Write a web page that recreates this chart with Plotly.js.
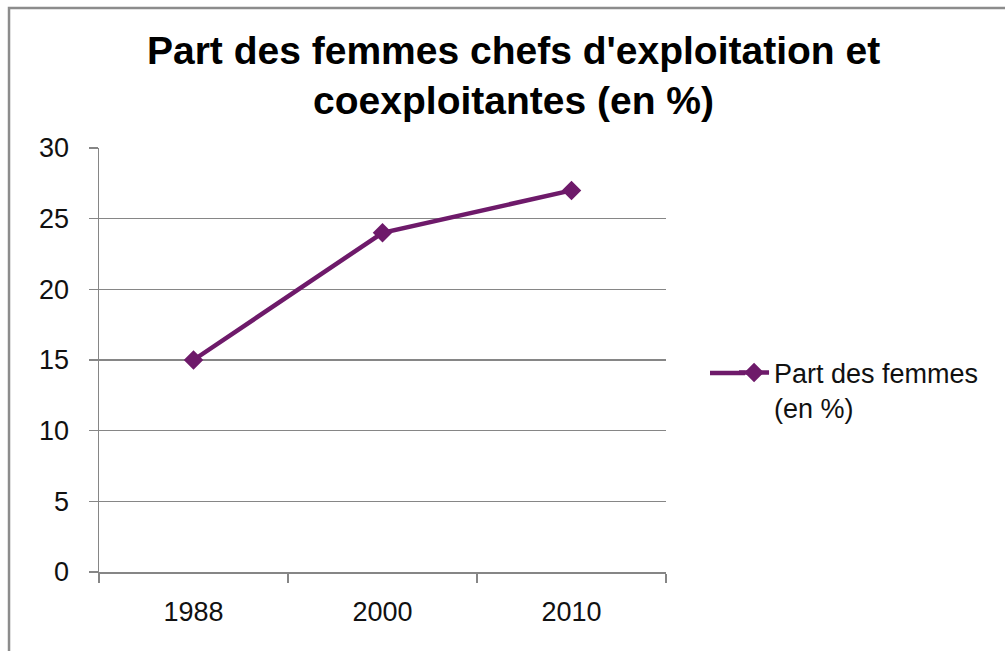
<!DOCTYPE html>
<html>
<head>
<meta charset="utf-8">
<script src="https://cdn.plot.ly/plotly-3.0.1.min.js"></script>
<style>html,body{margin:0;padding:0;background:#fff;}#chart{width:1005px;height:651px;}</style>
</head>
<body>
<div id="chart"></div>
<script>
const years = ["1988", "2000", "2010"];
const partFemmes = [15, 24, 27];
const seriesName = "Part des femmes<br>(en %)";
const chartTitle = "Part des femmes chefs d'exploitation et<br>coexploitantes (en %)";

const purple = "#6E1A6A";
const font = "Liberation Sans, Arial, sans-serif";

const trace = {
  x: years,
  y: partFemmes,
  type: "scatter",
  mode: "lines+markers",
  name: seriesName,
  line: {color: purple, width: 4.5},
  marker: {symbol: "diamond", size: 15, color: purple},
  showlegend: true
};

const layout = {
  width: 1005,
  height: 651,
  margin: {l: 99, r: 339, t: 148, b: 79},
  paper_bgcolor: "#fff",
  plot_bgcolor: "#fff",
  font: {family: font, color: "#111"},
  title: {
    text: chartTitle,
    font: {family: font, size: 39, color: "#000", weight: "bold"},
    xref: "container", x: 0.511, xanchor: "center",
    yref: "container", y: 0.902, yanchor: "top"
  },
  xaxis: {
    type: "category",
    range: [-0.5, 2.5],
    tickson: "boundaries",
    ticks: "outside",
    ticklen: 9,
    tickcolor: "#868686",
    tickwidth: 1.5,
    showline: true,
    linecolor: "#868686",
    linewidth: 1.5,
    showgrid: false,
    zeroline: false,
    tickfont: {family: font, size: 27, color: "#111"},
    ticklabelstandoff: 15
  },
  yaxis: {
    range: [0, 30],
    dtick: 5,
    ticks: "outside",
    ticklen: 9,
    tickcolor: "#868686",
    tickwidth: 1.5,
    showline: true,
    linecolor: "#868686",
    linewidth: 1.5,
    showgrid: true,
    gridcolor: "#868686",
    gridwidth: 1.2,
    zeroline: false,
    tickfont: {family: font, size: 27, color: "#111"},
    ticklabelstandoff: 14
  },
  legend: {
    x: 1.12, xanchor: "left",
    y: 0.428, yanchor: "middle",
    valign: "top",
    font: {family: font, size: 27, color: "#111"},
    bgcolor: "rgba(0,0,0,0)"
  },
  shapes: [{
    type: "rect", xref: "paper", yref: "paper",
    x0: -0.1587, x1: 1.62, y0: -0.22, y1: 1.330,
    line: {color: "#8c8c8c", width: 2.5},
    fillcolor: "rgba(0,0,0,0)",
    layer: "below"
  }, {
    type: "line", xref: "paper", yref: "paper",
    x0: (710 - 99) / 567, x1: (745 - 99) / 567,
    y0: (572 - 373) / 424, y1: (572 - 373) / 424,
    line: {color: purple, width: 4.5}
  }]
};

Plotly.newPlot("chart", [trace], layout, {displayModeBar: false, staticPlot: true});
</script>
</body>
</html>
